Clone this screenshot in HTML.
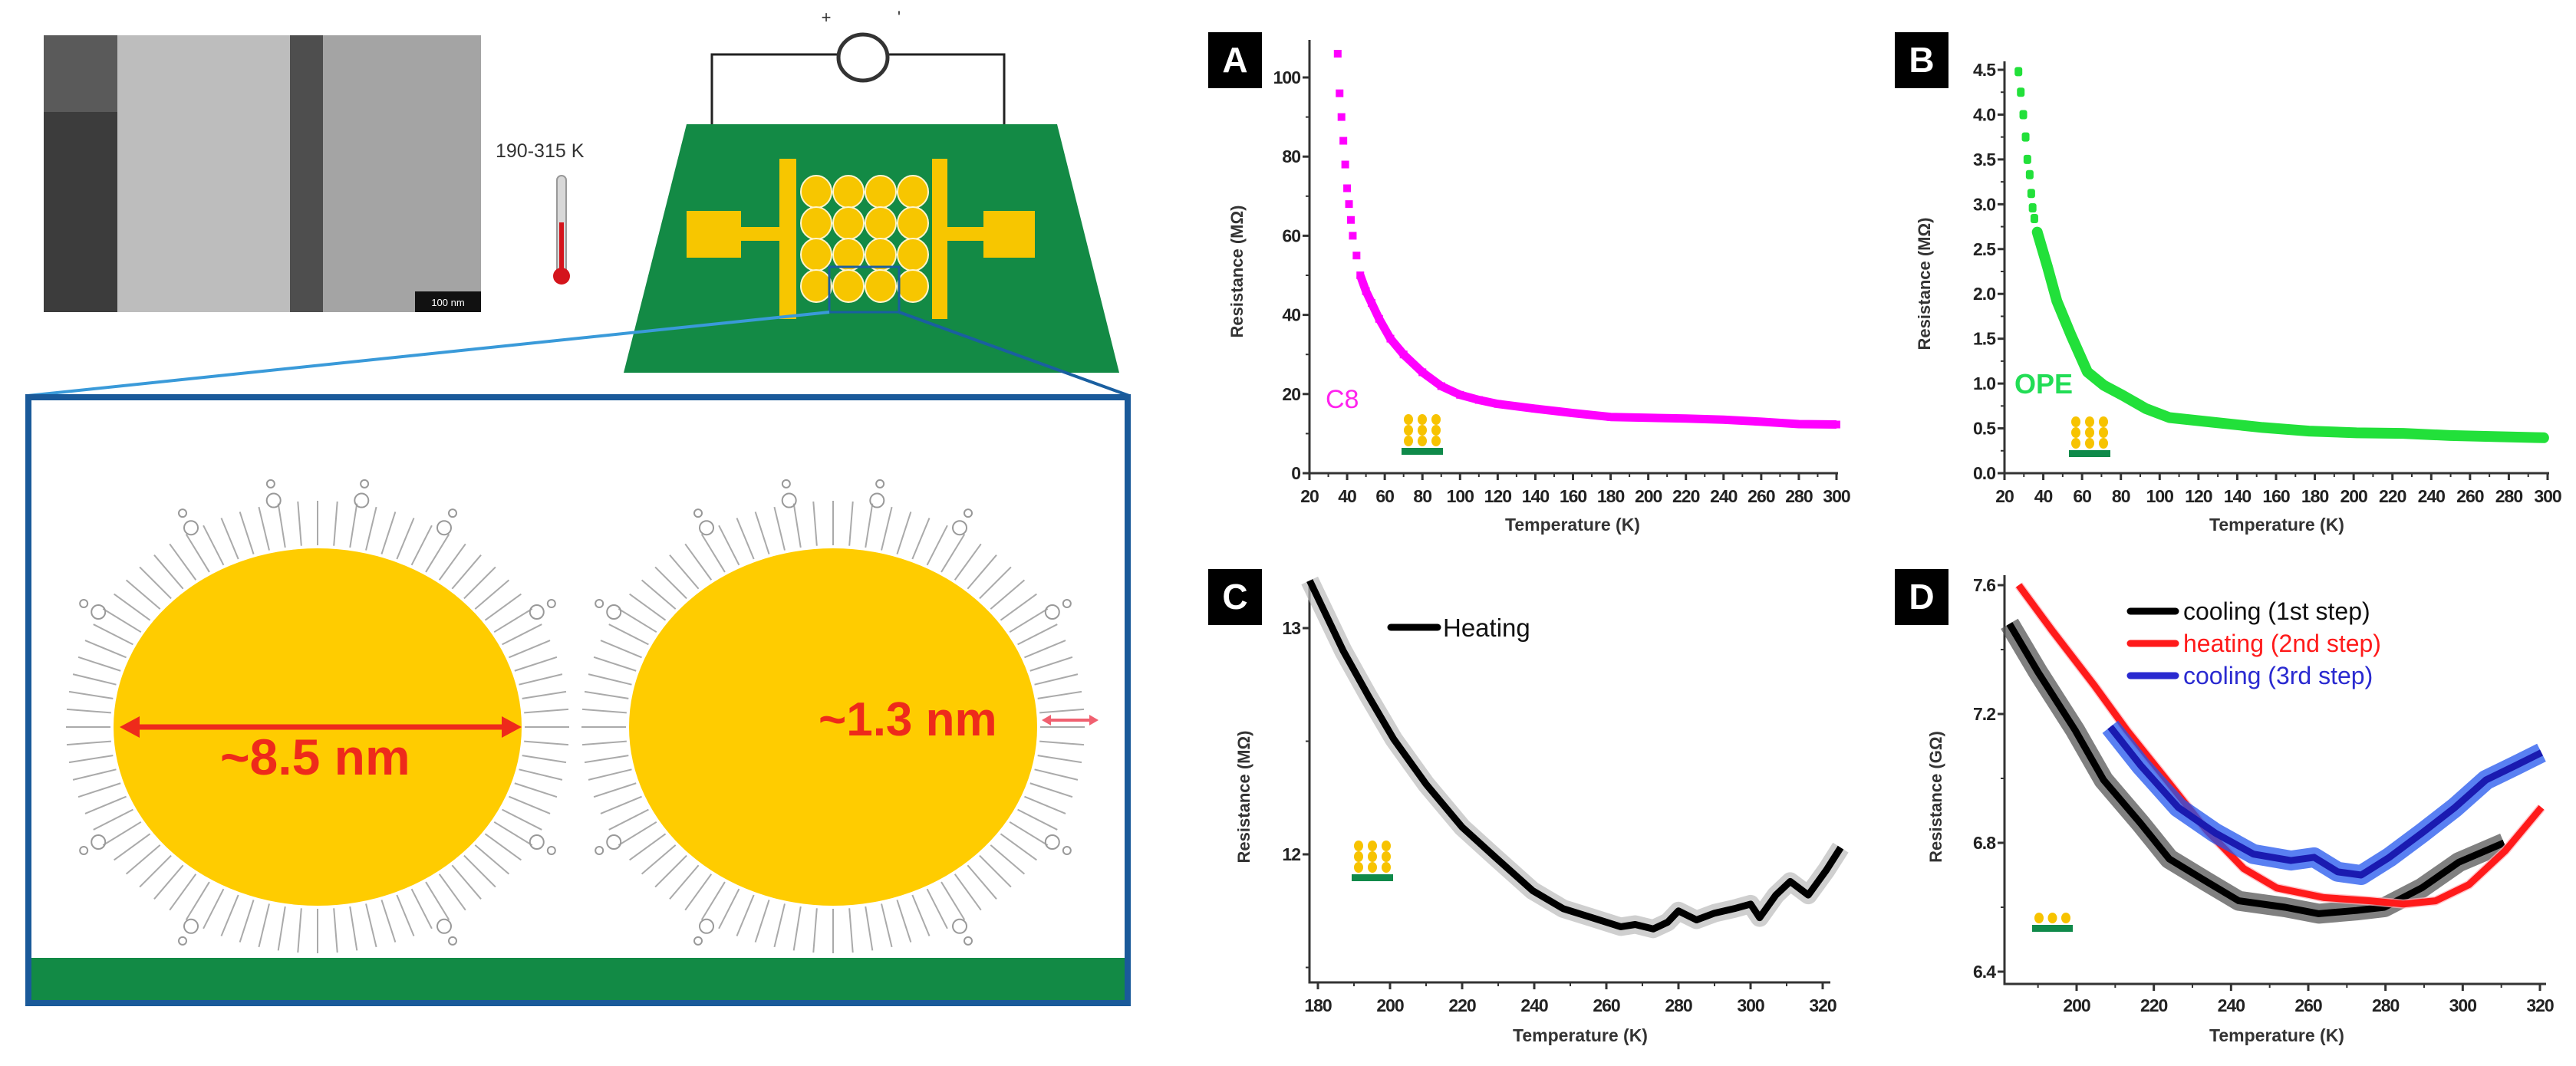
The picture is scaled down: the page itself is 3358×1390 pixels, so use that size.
<!DOCTYPE html>
<html><head><meta charset="utf-8"><style>
html,body{margin:0;padding:0;background:#fff;}
svg{display:block;font-family:"Liberation Sans",sans-serif;}
</style></head><body>
<svg id="fig" width="3358" height="1390" viewBox="0 0 3358 1390" xmlns="http://www.w3.org/2000/svg">
<g id="left">
  <g>
    <rect x="57" y="46" width="570" height="361" fill="#a9a9a9"/>
    <rect x="57" y="46" width="96" height="100" fill="#5a5a5a"/>
    <rect x="57" y="146" width="96" height="261" fill="#3c3c3c"/>
    <rect x="153" y="46" width="225" height="361" fill="#bdbdbd"/>
    <rect x="378" y="46" width="43" height="361" fill="#4e4e4e"/>
    <rect x="421" y="46" width="206" height="361" fill="#a4a4a4"/>
    <rect x="541" y="380" width="86" height="27" fill="#111"/>
    <text x="584" y="399" font-size="13" fill="#fff" text-anchor="middle">100 nm</text>
  </g>
  <text x="646" y="205" font-size="25" fill="#333">190-315 K</text>
  <g>
    <rect x="726" y="229" width="12" height="130" rx="6" fill="#d8d8d8" stroke="#999" stroke-width="2"/>
    <rect x="729" y="290" width="6" height="68" fill="#d4141c"/>
    <circle cx="732" cy="360" r="11" fill="#d4141c"/>
  </g>
  <g>
    <polyline points="928,300 928,71 1309,71 1309,300" fill="none" stroke="#222" stroke-width="3"/>
    <ellipse cx="1125" cy="75" rx="32" ry="30" fill="#fff" stroke="#333" stroke-width="5"/>
    <text x="1077" y="30" font-size="22" fill="#333" text-anchor="middle">+</text>
    <text x="1172" y="30" font-size="22" fill="#333" text-anchor="middle">'</text>
    <polygon points="895,162 1378,162 1459,486 813,486" fill="#138a45"/>
    <rect x="895" y="275" width="71" height="61" fill="#f7c600"/>
    <rect x="966" y="296" width="50" height="18" fill="#f7c600"/>
    <rect x="1016" y="207" width="22" height="209" fill="#f7c600"/>
    <rect x="1215" y="207" width="20" height="209" fill="#f7c600"/>
    <rect x="1234" y="296" width="48" height="18" fill="#f7c600"/>
    <rect x="1282" y="275" width="67" height="61" fill="#f7c600"/>
    <g id="grid"></g>
    <rect x="1081" y="348" width="91" height="59" fill="none" stroke="#1a5fa0" stroke-width="3"/>
  </g>
  <line x1="1081" y1="407" x2="36" y2="516" stroke="#3a9ad9" stroke-width="4"/>
  <line x1="1172" y1="407" x2="1472" y2="516" stroke="#1a5fa0" stroke-width="4"/>
  <g>
    <rect x="37" y="518" width="1433" height="790" fill="#fff" stroke="#1a5a9a" stroke-width="8"/>
    <rect x="41" y="1249" width="1425" height="55" fill="#128a45"/>
    <g id="ligands"></g>
    <ellipse cx="414" cy="948" rx="266" ry="233" fill="#ffcc00"/>
    <ellipse cx="1086" cy="948" rx="266" ry="233" fill="#ffcc00"/>
    <line x1="176" y1="948" x2="660" y2="948" stroke="#ee2a1b" stroke-width="7"/>
    <polygon points="156,948 182,934 182,962" fill="#ee2a1b"/>
    <polygon points="680,948 654,934 654,962" fill="#ee2a1b"/>
    <text x="287" y="1010" font-size="66" font-weight="bold" fill="#ee2a1b">~8.5 nm</text>
    <text x="1067" y="959" font-size="62" font-weight="bold" fill="#ee2a1b">~1.3 nm</text>
    <line x1="1366" y1="939" x2="1424" y2="939" stroke="#f06070" stroke-width="4"/>
    <polygon points="1358,939 1370,932 1370,946" fill="#f06070"/>
    <polygon points="1432,939 1420,932 1420,946" fill="#f06070"/>
  </g>
</g>
<g id="charts"></g>
</svg>
<script>
// ---------- chart data ----------
const aTemp=[35,36,37,38,39,40,41,42,43,45,47,50,53,57,63,70,80,90,100,110,120,140,160,180,200,220,240,260,280,300];
const aRes=[106,96,90,84,78,72,68,64,60,55,50,46,43,39,34,30,25.5,22,19.8,18.5,17.5,16.3,15.2,14.2,14,13.8,13.5,13,12.4,12.3];
const bTemp=[27.2,28.4,29.7,30.9,31.8,33,33.8,34.5,35.4,36.9,42.2,47,54.3,62.7,71.2,80.8,92.9,105,129,153,177,201.5,225.6,249.8,274,298];
const bRes=[4.48,4.25,4.0,3.75,3.5,3.33,3.12,2.96,2.84,2.69,2.30,1.92,1.54,1.13,0.98,0.87,0.72,0.62,0.565,0.51,0.47,0.45,0.444,0.42,0.407,0.395];
const cTemp=[177.7,181,187,194,201,210,220,229,239.5,248,256,264,268,273,277,280,285,290,295.5,300,302.5,307,311,316,321,325];
const cRes=[13.21,13.1,12.9,12.7,12.51,12.31,12.12,11.99,11.84,11.76,11.72,11.68,11.69,11.67,11.7,11.75,11.71,11.74,11.76,11.78,11.72,11.82,11.88,11.82,11.93,12.03];
const dCool1T=[182.6,190,199.6,207,216.6,224,233.6,242,254,262.7,272.5,279.7,289.4,299,310.7];
const dCool1R=[7.48,7.33,7.15,6.995,6.86,6.75,6.68,6.62,6.6,6.58,6.59,6.6,6.66,6.74,6.8];
const dHeatT=[185,193.6,204.5,213,224,233.6,243.3,251.8,264,276,284.6,293,301.6,311,320.4];
const dHeatR=[7.6,7.46,7.29,7.15,6.985,6.84,6.72,6.66,6.63,6.62,6.61,6.62,6.67,6.775,6.91];
const dCool3T=[208.7,216.6,226.3,236,245.8,255.5,261.5,267.6,273.7,281,289.4,298,306,313.7,320.4];
const dCool3R=[7.16,7.04,6.91,6.83,6.765,6.745,6.755,6.71,6.7,6.755,6.83,6.91,6.995,7.04,7.08];
const abXTicks=[20,40,60,80,100,120,140,160,180,200,220,240,260,280,300];
const aYTicks=[0,20,40,60,80,100];
const bYTicks=[0,0.5,1.0,1.5,2.0,2.5,3.0,3.5,4.0,4.5];
const cXTicks=[180,200,220,240,260,280,300,320];
const cYTicks=[12,13];
const dXTicks=[200,220,240,260,280,300,320];
const dYTicks=[6.4,6.8,7.2,7.6];
const dLegend=["cooling (1st step)","heating (2nd step)","cooling (3rd step)"];

const NS="http://www.w3.org/2000/svg";
const root=document.getElementById('charts');
function mk(tag,attrs,parent,txt){const e=document.createElementNS(NS,tag);for(const k in attrs)e.setAttribute(k,attrs[k]);if(txt!==undefined)e.textContent=txt;(parent||root).appendChild(e);return e;}
function lin(d0,d1,r0,r1){return v=>r0+(v-d0)*(r1-r0)/(d1-d0);}

function panel(p){
  const g=mk('g',{});
  
  
  const box=mk('rect',{x:p.bx,y:p.by,width:70,height:73,fill:'#000'},g);
  
  
  const bt=mk('text',{x:p.bx+35,y:p.by+52,'font-size':46,'font-weight':'bold',fill:'#fff','text-anchor':'middle'},g,p.id.toUpperCase());
  
  
  const ax=mk('polyline',{points:`${p.axL},${p.axT} ${p.axL},${p.axB} ${p.axR},${p.axB}`,fill:'none',stroke:'#333','stroke-width':3},g);
  
  
  p.xTicks.forEach(v=>{const x=p.xs(v);
    mk('line',{x1:x,y1:p.axB,x2:x,y2:p.axB+9,stroke:'#333','stroke-width':3},g);
    const t=mk('text',{x:x,y:p.axB+(p.xLabOff||38),'font-size':p.fs||23,'font-weight':'bold',fill:'#222','text-anchor':'middle','letter-spacing':-1},g,String(v));
    
    
    if(p.xMinor){const xm=p.xs(v+p.xMinor);if(xm<p.axR)mk('line',{x1:xm,y1:p.axB,x2:xm,y2:p.axB+5,stroke:'#333','stroke-width':2},g);}
  });
  if(p.xMinorBefore){const xm=p.xs(p.xTicks[0]-p.xMinor);if(xm>p.axL)mk('line',{x1:xm,y1:p.axB,x2:xm,y2:p.axB+5,stroke:'#333','stroke-width':2},g);}
  p.yTicks.forEach(v=>{const y=p.ys(v);
    mk('line',{x1:p.axL-9,y1:y,x2:p.axL,y2:y,stroke:'#333','stroke-width':3},g);
    const t=mk('text',{x:p.axL-12,y:y+8,'font-size':p.fs||23,'font-weight':'bold',fill:'#222','text-anchor':'end','letter-spacing':-1},g,p.yFmt?p.yFmt(v):String(v));
    
    
    if(p.yMinor){const ym=p.ys(v+p.yMinor);if(ym>p.axT)mk('line',{x1:p.axL-5,y1:ym,x2:p.axL,y2:ym,stroke:'#333','stroke-width':2},g);}
  });
  if(p.yMinorBelow){const ym=p.ys(p.yTicks[0]-p.yMinor);if(ym<p.axB)mk('line',{x1:p.axL-5,y1:ym,x2:p.axL,y2:ym,stroke:'#333','stroke-width':2},g);}
  const yl=mk('text',{x:p.ylx,y:p.yly,'font-size':22,'font-weight':'bold',fill:'#333','text-anchor':'middle',transform:`rotate(-90 ${p.ylx} ${p.yly})`},g,p.yTitle);
  
  
  const xl=mk('text',{x:p.xlx,y:p.xly,'font-size':23,'font-weight':'bold',fill:'#333','text-anchor':'middle'},g,'Temperature (K)');
  
  
  return g;
}
function icon(g,x,y,cols,rows,w){
  const ig=mk('g',{},g);
  
  
  for(let r=0;r<rows;r++)for(let c=0;c<cols;c++)mk('ellipse',{cx:x+9+c*(w-18)/(cols-1),cy:y-9-r*14,rx:6,ry:7,fill:'#f7c300'},ig);
  mk('rect',{x:x,y:y,width:w,height:9,fill:'#0f8a4a'},ig);
}
function pts(T,R,xs,ys){return T.map((t,i)=>xs(t).toFixed(1)+','+ys(R[i]).toFixed(1)).join(' ');}

// Panel A
{const xs=lin(20,300,1707,2394), ys=lin(0,100,617,101);
 const g=panel({id:'a',bx:1575,by:42,axL:1707,axR:2396,axT:52,axB:617,xs,ys,xTicks:abXTicks,xMinor:10,yTicks:aYTicks,yMinor:10,ylx:1620,yly:354,yTitle:'Resistance (MΩ)',xlx:2050,xly:692,fs:23});
 const T2=[],R2=[];aTemp.forEach((t,i)=>{if(t>=47){T2.push(t);R2.push(aRes[i]);}});
 const l=mk('polyline',{points:pts(T2,R2,xs,ys),fill:'none',stroke:'#ff00ff','stroke-width':11,'stroke-linejoin':'round'},g);
 
 
 aTemp.forEach((t,i)=>{const s=mk('rect',{x:xs(t)-5,y:ys(aRes[i])-5,width:10,height:10,fill:'#ff00ff'},g);
   
   });
 const lab=mk('text',{x:1728,y:532,'font-size':34,fill:'#ff22ee'},g,'C8');
 
 
 icon(g,1827,584,3,3,54);
}
// Panel B
{const xs=lin(20,300,2613,3321), ys=lin(0,4.5,617,91);
 const g=panel({id:'b',bx:2470,by:42,axL:2613,axR:3323,axT:80,axB:617,xs,ys,xTicks:abXTicks,xMinor:10,yTicks:bYTicks,yMinor:0.25,yFmt:v=>v.toFixed(1),ylx:2516,yly:370,yTitle:'Resistance (MΩ)',xlx:2968,xly:692,fs:23});
 const T2=[],R2=[];bTemp.forEach((t,i)=>{if(t>=36){T2.push(t);R2.push(bRes[i]);}});
 const l=mk('polyline',{points:pts(T2,R2,xs,ys),fill:'none',stroke:'#22e03a','stroke-width':14,'stroke-linejoin':'round','stroke-linecap':'round'},g);
 
 
 bTemp.forEach((t,i)=>{if(t<36){const c=mk('rect',{x:xs(t)-5,y:ys(bRes[i])-6,width:10,height:12,rx:3,fill:'#22e03a'},g);
   
   }});
 const lab=mk('text',{x:2626,y:513,'font-size':36,'font-weight':'bold',fill:'#22dd55'},g,'OPE');
 
 
 icon(g,2697,587,3,3,54);
}
// Panel C
{const xs=lin(180,320,1718,2376), ys=lin(12,13,1114,819);
 const g=panel({id:'c',bx:1575,by:742,axL:1707,axR:2386,axT:760,axB:1281,xs,ys,xTicks:cXTicks,xMinor:10,yTicks:cYTicks,yMinor:0.5,yMinorBelow:true,ylx:1629,yly:1039,yTitle:'Resistance (MΩ)',xlx:2060,xly:1358,fs:23,xLabOff:38});
 const h=mk('polyline',{points:pts(cTemp,cRes,xs,ys),fill:'none',stroke:'#bbb','stroke-width':24,'stroke-linejoin':'round',opacity:0.7},g);
 
 
 const l=mk('polyline',{points:pts(cTemp,cRes,xs,ys),fill:'none',stroke:'#000','stroke-width':9,'stroke-linejoin':'round'},g);
 
 
 const lg=mk('g',{},g);
 
 
 mk('line',{x1:1813,y1:818,x2:1874,y2:818,stroke:'#000','stroke-width':9,'stroke-linecap':'round'},lg);
 mk('text',{x:1881,y:830,'font-size':33,fill:'#111'},lg,'Heating');
 icon(g,1762,1140,3,3,54);
}
// Panel D
{const xs=lin(200,320,2707,3311), ys=lin(6.4,7.6,1267,763);
 const g=panel({id:'d',bx:2470,by:742,axL:2613,axR:3319,axT:750,axB:1283,xs,ys,xTicks:dXTicks,xMinor:10,xMinorBefore:true,yTicks:dYTicks,yMinor:0.2,ylx:2531,yly:1039,yTitle:'Resistance (GΩ)',xlx:2968,xly:1358,fs:23,xLabOff:36});
 const series=[[dCool1T,dCool1R,'#000','#555','cooling-1st-step'],[dHeatT,dHeatR,'#ff1a1a','#ffb0b8','heating-2nd-step'],[dCool3T,dCool3R,'#1a1ab0','#2255ee','cooling-3rd-step']];
 series.forEach(s=>{
   const h=mk('polyline',{points:pts(s[0],s[1],xs,ys),fill:'none',stroke:s[3],'stroke-width':s[4]==='heating-2nd-step'?12:26,'stroke-linejoin':'round',opacity:0.75},g);
   
   
   const l=mk('polyline',{points:pts(s[0],s[1],xs,ys),fill:'none',stroke:s[2],'stroke-width':9,'stroke-linejoin':'round'},g);
   
   
 });
 const cols=['#000','#ff1a1a','#2a2ad0'];
 dLegend.forEach((t,i)=>{const lg=mk('g',{},g);
   
   
   const y=797+i*42;
   mk('line',{x1:2777,y1:y,x2:2836,y2:y,stroke:cols[i],'stroke-width':9,'stroke-linecap':'round'},lg);
   mk('text',{x:2846,y:y+11,'font-size':32,fill:i===0?'#111':cols[i]},lg,t);});
 icon(g,2649,1206,3,1,53);
}
// ---------- schematic decorations ----------
{const gg=document.getElementById('grid');
 for(let r=0;r<4;r++)for(let c=0;c<4;c++)mk('ellipse',{cx:1064+c*42,cy:250+r*41,rx:20,ry:21,fill:'#f7c600',stroke:'#fff5cc','stroke-width':2},gg);}
{const lg=document.getElementById('ligands');
 [[414,948],[1086,948]].forEach(([cx,cy])=>{
  for(let a=0;a<360;a+=4.5){const r=a*Math.PI/180;const c=Math.cos(r),s=Math.sin(r);
    const r1x=270,r1y=237,len=58;
    const x1=cx+c*r1x,y1=cy+s*r1y;
    if(y1>1245)continue;
    mk('line',{x1:x1,y1:y1,x2:x1+c*len,y2:Math.min(y1+s*len,1245),stroke:'#aaa','stroke-width':2},lg);}
  [-120,-100,-80,-60,-150,-30,150,30,120,60].forEach(a=>{const r=a*Math.PI/180;
    const x=cx+Math.cos(r)*330,y=cy+Math.sin(r)*300;
    if(y>1240)return;
    mk('circle',{cx:x,cy:y,r:9,fill:'none',stroke:'#999','stroke-width':2},lg);
    mk('circle',{cx:x+Math.cos(r)*22,cy:y+Math.sin(r)*22,r:5,fill:'none',stroke:'#999','stroke-width':2},lg);});
 });}
</script>
</body></html>
